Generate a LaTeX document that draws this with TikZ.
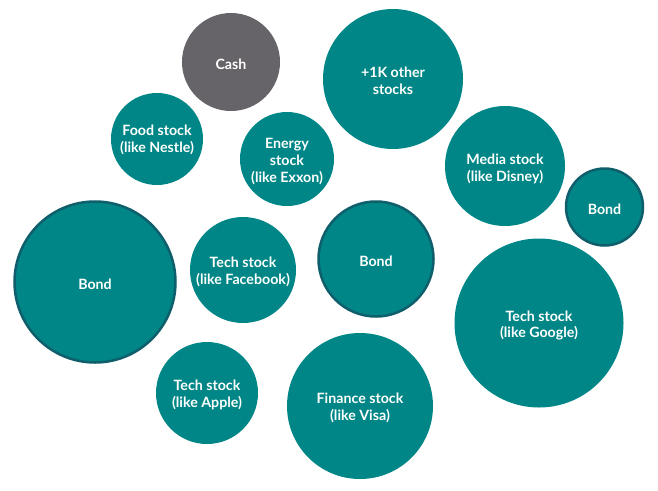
\documentclass[tikz,border=0pt]{standalone}
\usepackage{fontspec}
\setmainfont{Lato}
\definecolor{teal1}{RGB}{0,134,134}
\definecolor{tealdark}{RGB}{14,94,108}
\definecolor{cashgray}{RGB}{102,100,105}
\begin{document}
\begin{tikzpicture}[x=1pt,y=-1pt,
  bubble/.style={circle,fill=teal1,inner sep=0pt},
  bondb/.style={bubble,draw=tealdark,line width=2.5pt},
  cashb/.style={bubble,fill=cashgray},
  txt/.style={text=white,font=\fontsize{14.2}{17}\selectfont\bfseries,align=center,inner sep=0pt}]
\useasboundingbox (0,0) rectangle (658,490);
\node[cashb,minimum size=98pt] (cash) at (231,62) {};
\node[bubble,minimum size=140pt] (other) at (393,79) {};
\node[bubble,minimum size=92pt] (food) at (157,139) {};
\node[bubble,minimum size=94pt] (energy) at (287,159) {};
\node[bubble,minimum size=120pt] (media) at (505,166) {};
\node[bondb,minimum size=77pt] (bond1) at (604.5,207) {};
\node[bondb,minimum size=161pt] (bond2) at (95,282) {};
\node[bubble,minimum size=106pt] (fb) at (243,270) {};
\node[bondb,minimum size=115pt] (bond3) at (376,259) {};
\node[bubble,minimum size=169pt] (google) at (539,323) {};
\node[bubble,minimum size=102pt] (apple) at (207,393) {};
\node[bubble,minimum size=146pt] (visa) at (360,406) {};
\node[txt] (cashT) at ([yshift=-2pt]cash.center) {Cash};
\node[txt] (otherT) at ([yshift=-2pt]other.center) {+1K other\\stocks};
\node[txt] (foodT) at ([yshift=-1pt]food.center) {Food stock\\(like Nestle)};
\node[txt] (energyT) at ([yshift=-2pt]energy.center) {Energy\\stock\\(like Exxon)};
\node[txt] (mediaT) at ([yshift=-2.5pt]media.center) {Media stock\\(like Disney)};
\node[txt] (bond1T) at ([yshift=-2pt]bond1.center) {Bond};
\node[txt] (bond2T) at ([yshift=-2.5pt]bond2.center) {Bond};
\node[txt] (fbT) at ([yshift=-2pt]fb.center) {Tech stock\\(like Facebook)};
\node[txt] (bond3T) at ([yshift=-2.5pt]bond3.center) {Bond};
\node[txt] (googleT) at ([yshift=-2.5pt]google.center) {Tech stock\\(like Google)};
\node[txt] (appleT) at ([yshift=-2pt]apple.center) {Tech stock\\(like Apple)};
\node[txt] (visaT) at ([yshift=-2pt]visa.center) {Finance stock\\(like Visa)};
\end{tikzpicture}
\end{document}
